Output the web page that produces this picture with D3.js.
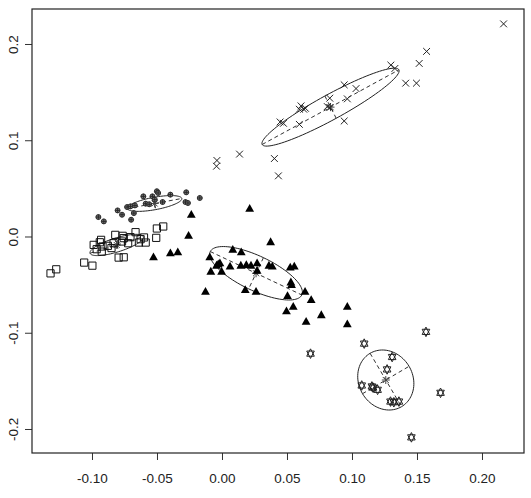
<!DOCTYPE html>
<html>
<head>
<meta charset="utf-8">
<script src="https://cdn.jsdelivr.net/npm/d3@7"></script>
<style>
  body { margin: 0; background: #fff; }
  text { font-family: "Liberation Sans", Arial, sans-serif; font-size: 13.5px; fill: #222; }
</style>
</head>
<body>
<svg id="chart" width="531" height="498"></svg>
<script>
// group "x" (pch 4)
var crossX = [0.2166, 0.1574, 0.1517, 0.1413, 0.1496, 0.1299, 0.1330, 0.0940, 0.1031, 0.0829, 0.0964, 0.0810, 0.0829,
              0.0608, 0.0629, 0.0642, 0.0595, 0.0447, 0.0473, 0.0595, 0.0940, -0.0039, -0.0042, 0.0135, 0.0403, 0.0434];
var crossY = [0.2209, 0.1923, 0.1798, 0.1593, 0.1593, 0.1781, 0.1746, 0.1576, 0.1537, 0.1437, 0.1430, 0.1350, 0.1339,
              0.1357, 0.1322, 0.1332, 0.1322, 0.1190, 0.1176, 0.1165, 0.1200, 0.0790, 0.0730, 0.0856, 0.0810, 0.0630];

// filled triangles (pch 17)
var triX = [0.0213, -0.0236, -0.0257, 0.0374, -0.0527, -0.0397, -0.0340, 0.0083, 0.0148, -0.0094, -0.0029, -0.0086,
            -0.0003, -0.0042, -0.0016, 0.0062, 0.0145, 0.0187, 0.0223, 0.0270, 0.0270, 0.0361, 0.0387, 0.0525, 0.0556,
            0.0530, 0.0535, 0.0179, 0.0262, -0.0127, 0.0504, 0.0639, 0.0686, 0.0548, 0.0496, 0.0764, 0.0964, 0.0964, 0.0647];
var triY = [0.0289, 0.0226, 0.0007, -0.0059, -0.0216, -0.0174, -0.0163, -0.0139, -0.0163, -0.0216, -0.0289, -0.0365,
            -0.0365, -0.0303, -0.0278, -0.0313, -0.0303, -0.0296, -0.0303, -0.0278, -0.0355, -0.0303, -0.0313, -0.0323, -0.0313,
            -0.0477, -0.0504, -0.0557, -0.0574, -0.0574, -0.0619, -0.0574, -0.0661, -0.0730, -0.0776, -0.0817, -0.0730, -0.0911, -0.0887];

// stars of david (pch 11)
var davidX = [0.1569, 0.1094, 0.0681, 0.1309, 0.1270, 0.1075, 0.1153, 0.1197, 0.1681, 0.1296, 0.1322, 0.1361, 0.1457, 0.1162];
var davidY = [-0.0991, -0.1113, -0.1217, -0.1252, -0.1381, -0.1548, -0.1558, -0.1593, -0.1624, -0.1715, -0.1722, -0.1715, -0.2087, -0.1570];

// circle-plus (pch 10)
var oplusX = [-0.0951, -0.0909, -0.0803, -0.0769, -0.0699, -0.0730, -0.0704, -0.0670, -0.0678, -0.0605, -0.0587,
              -0.0535, -0.0517, -0.0501, -0.0491, -0.0457, -0.0397, -0.0275, -0.0281, -0.0262, -0.0171, -0.0560];
var oplusY = [0.0202, 0.0157, 0.0271, 0.0226, 0.0174, 0.0306, 0.0313, 0.0323, 0.0243, 0.0417, 0.0341,
              0.0417, 0.0383, 0.0470, 0.0452, 0.0358, 0.0435, 0.0459, 0.0358, 0.0348, 0.0400, 0.0335];

// open squares (pch 0)
var sqX = [-0.1319, -0.1275, -0.1060, -0.0997, -0.0987, -0.0930, -0.0964, -0.0919, -0.0925, -0.0878, -0.0834, -0.0821, -0.0764,
           -0.0756, -0.0769, -0.0722, -0.0704, -0.0665, -0.0639, -0.0626, -0.0587, -0.0795, -0.0756, -0.0501, -0.0452, -0.0506,
           -0.0940, -0.0850, -0.0600];
var sqY = [-0.0383, -0.0341, -0.0271, -0.0303, -0.0087, -0.0035, -0.0132, -0.0104, -0.0157, -0.0097, -0.0070, 0.0017, 0.0007,
           -0.0017, -0.0052, -0.0070, -0.0007, 0.0045, -0.0063, -0.0028, -0.0063, -0.0219, -0.0216, 0.0083, 0.0104, -0.0014,
           -0.0060, -0.0120, -0.0010];

// class ellipses: centre, half major axis, half minor axis (data units)
var ellCx = [0.0835, 0.0262, 0.1260, -0.0518, -0.0810];
var ellCy = [0.1344, -0.0382, -0.1491, 0.0343, -0.0088];
var ellAx = [0.0526, 0.0352, 0.01208, 0.0209, 0.0205];
var ellAy = [0.0388, -0.02255, -0.02774, 0.0052, 0.0086];
var ellBx = [0.00435, -0.00569, 0.0179, 0.00086, 0.0016];
var ellBy = [-0.01158, -0.0162, 0.01423, -0.00634, -0.00694];

var xTicks = [-0.10, -0.05, 0.00, 0.05, 0.10, 0.15, 0.20];
var yTicks = [-0.2, -0.1, 0.0, 0.1, 0.2];

var svg = d3.select('#chart');
var boxL = 32, boxR = 524, boxT = 9, boxB = 453;

var x = d3.scaleLinear().domain([-0.14615, 0.23231]).range([boxL, boxR]);
var y = d3.scaleLinear().domain([-0.22494, 0.23636]).range([boxB, boxT]);

var loc = d3.formatLocale({ decimal: '.', thousands: ',', grouping: [3], currency: ['', ''], minus: '-' });

// axes (R style, ticks outward)
var xAxis = svg.append('g')
    .attr('transform', `translate(0,${boxB})`)
    .call(d3.axisBottom(x).tickValues(xTicks).tickSize(7).tickSizeOuter(0).tickPadding(13).tickFormat(loc.format('.2f')));
xAxis.select('.domain').remove();
xAxis.selectAll('line').attr('stroke', '#333');
xAxis.selectAll('text').attr('font-size', null).attr('font-family', null);

var yAxis = svg.append('g')
    .attr('transform', `translate(${boxL},0)`)
    .call(d3.axisLeft(y).tickValues(yTicks).tickSize(7).tickSizeOuter(0).tickFormat(loc.format('.1f')));
yAxis.select('.domain').remove();
yAxis.selectAll('line').attr('stroke', '#333');
yAxis.selectAll('text')
    .attr('font-size', null).attr('font-family', null)
    .attr('x', null).attr('dy', null)
    .attr('text-anchor', 'middle')
    .attr('transform', 'translate(-19,0) rotate(-90)')
    .attr('dy', '0.35em');

svg.append('rect')
    .attr('x', boxL).attr('y', boxT)
    .attr('width', boxR - boxL).attr('height', boxB - boxT)
    .attr('fill', 'none').attr('stroke', '#222').attr('stroke-width', 1.2);

var plot = svg.append('g');

// ellipses + dashed axes
var line = d3.line().x(d => x(d[0])).y(d => y(d[1]));
ellCx.forEach(function (cx, i) {
    var cy = ellCy[i];
    var pts = d3.range(0, 101).map(function (k) {
        var t = k / 100 * 2 * Math.PI;
        return [cx + ellAx[i] * Math.cos(t) + ellBx[i] * Math.sin(t),
                cy + ellAy[i] * Math.cos(t) + ellBy[i] * Math.sin(t)];
    });
    plot.append('path').attr('d', line(pts))
        .attr('fill', 'none').attr('stroke', '#222').attr('stroke-width', 1);
    plot.append('path').attr('d', line([[cx - ellAx[i], cy - ellAy[i]], [cx + ellAx[i], cy + ellAy[i]]]))
        .attr('fill', 'none').attr('stroke', '#333').attr('stroke-dasharray', '4,3');
    plot.append('path').attr('d', line([[cx - ellBx[i], cy - ellBy[i]], [cx + ellBx[i], cy + ellBy[i]]]))
        .attr('fill', 'none').attr('stroke', '#333').attr('stroke-dasharray', '4,3');
    // centre asterisk
    plot.append('path')
        .attr('transform', `translate(${x(cx)},${y(cy)})`)
        .attr('d', 'M-4,0L4,0M0,-4L0,4M-3,-3L3,3M-3,3L3,-3')
        .attr('stroke', '#444').attr('stroke-width', 1).attr('fill', 'none');
});

function pairs(xs, ys) { return xs.map((v, i) => [v, ys[i]]); }

plot.selectAll('path.sq').data(pairs(sqX, sqY)).enter().append('path')
    .attr('class', 'sq')
    .attr('transform', d => `translate(${x(d[0])},${y(d[1])})`)
    .attr('d', 'M-3.6,-3.6H3.6V3.6H-3.6Z')
    .attr('fill', 'none').attr('stroke', '#111').attr('stroke-width', 1);

plot.selectAll('path.tri').data(pairs(triX, triY)).enter().append('path')
    .attr('class', 'tri')
    .attr('transform', d => `translate(${x(d[0])},${y(d[1])})`)
    .attr('d', 'M0,-4.8L4.4,3L-4.4,3Z')
    .attr('fill', '#000');

plot.selectAll('path.cross').data(pairs(crossX, crossY)).enter().append('path')
    .attr('class', 'cross')
    .attr('transform', d => `translate(${x(d[0])},${y(d[1])})`)
    .attr('d', 'M-3.4,-3.4L3.4,3.4M-3.4,3.4L3.4,-3.4')
    .attr('stroke', '#222').attr('stroke-width', 1).attr('fill', 'none');

var opl = plot.selectAll('g.oplus').data(pairs(oplusX, oplusY)).enter().append('g')
    .attr('class', 'oplus')
    .attr('transform', d => `translate(${x(d[0])},${y(d[1])})`);
opl.append('circle').attr('r', 2.5).attr('fill', '#777').attr('stroke', '#222').attr('stroke-width', 0.9);
opl.append('path').attr('d', 'M-2.5,0H2.5M0,-2.5V2.5').attr('stroke', '#222').attr('stroke-width', 0.9);

plot.selectAll('path.david').data(pairs(davidX, davidY)).enter().append('path')
    .attr('class', 'david')
    .attr('transform', d => `translate(${x(d[0])},${y(d[1])})`)
    .attr('d', 'M0,-4.8L3.8,2.6L-3.8,2.6ZM0,4.8L3.8,-2.6L-3.8,-2.6Z')
    .attr('fill', 'none').attr('stroke', '#222').attr('stroke-width', 1);
</script>
</body>
</html>
